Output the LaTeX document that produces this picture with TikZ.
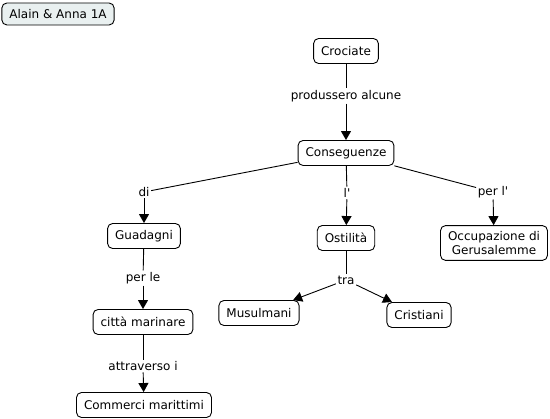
\documentclass[tikz,border=0pt]{standalone}
\usepackage{fontspec}
\setmainfont{DejaVu Sans}
\usepackage{tikz}
\usetikzlibrary{arrows.meta}
\definecolor{tagfill}{HTML}{E9F0F0}

\begin{document}
\begin{tikzpicture}[
  x=1pt, y=-1pt,
  concept/.style={draw, rounded corners=5pt, line width=0.9pt, inner xsep=7.5pt, inner ysep=6pt, minimum height=25pt, font=\fontsize{12}{13.5}\selectfont, align=center},
  link/.style={inner sep=1.5pt, font=\fontsize{12}{13.5}\selectfont},
  arr/.style={-{Triangle[length=9pt,width=10pt]}, line width=0.9pt},
  ln/.style={line width=0.9pt}
]
\useasboundingbox (0,0) rectangle (550,419);
\node[concept, fill=tagfill, minimum height=22pt] (tag) at (58,14) {Alain \& Anna 1A};
\node[concept] (cro) at (346,51) {Crociate};
\node[link] (prod) at (346,96) {produssero alcune};
\node[concept] (cons) at (346,153) {Conseguenze};
\node[link] (di) at (144,192) {di};
\node[link] (lap) at (347,193) {l\textquotesingle};
\node[link] (perl) at (493,192) {per l\textquotesingle};
\node[concept] (gua) at (144,236) {Guadagni};
\node[concept] (ost) at (346,238) {Ostilità};
\node[concept] (occ) at (494,243) {Occupazione di\\Gerusalemme};
\node[link] (perle) at (143,278) {per le};
\node[link] (tra) at (346,280) {tra};
\node[concept] (cit) at (143,322) {città marinare};
\node[concept] (mus) at (259,313) {Musulmani};
\node[concept] (cri) at (419,315) {Cristiani};
\node[link] (attr) at (143,366) {attraverso i};
\node[concept] (com) at (144,405) {Commerci marittimi};
\draw[ln] (cro) -- (prod);
\draw[arr] (prod) -- (cons);
\draw[ln] (cons) -- (di);
\draw[ln] (cons) -- (lap);
\draw[ln] (cons) -- (perl);
\draw[arr] (di) -- (gua);
\draw[arr] (lap) -- (ost);
\draw[arr] (perl) -- (occ);
\draw[ln] (gua) -- (perle);
\draw[arr] (perle) -- (cit);
\draw[ln] (ost) -- (tra);
\draw[arr] (tra) -- (mus);
\draw[arr] (tra) -- (cri);
\draw[ln] (cit) -- (attr);
\draw[arr] (attr) -- (com);
\end{tikzpicture}
\end{document}
